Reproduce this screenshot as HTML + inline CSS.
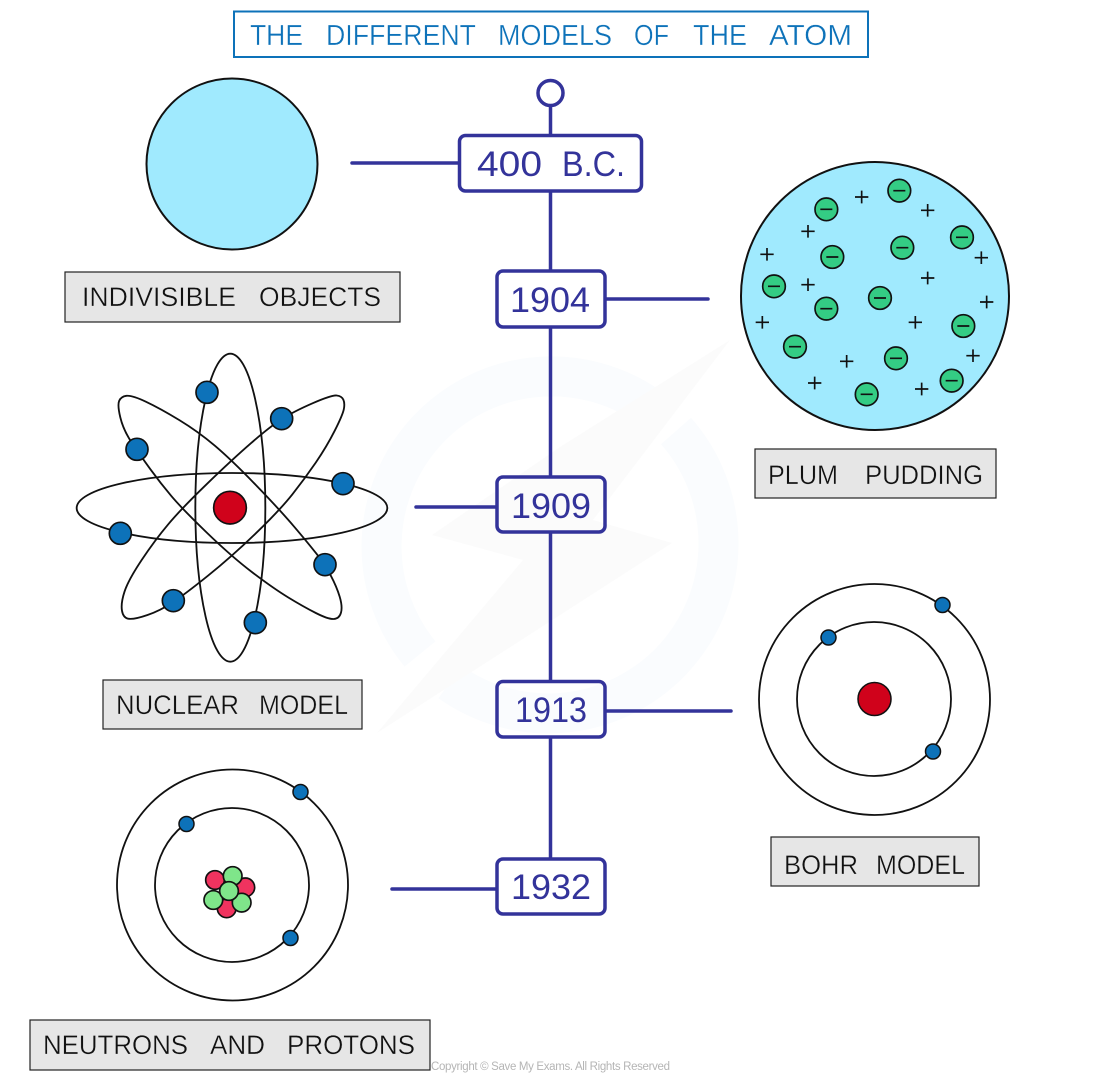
<!DOCTYPE html>
<html>
<head>
<meta charset="utf-8">
<style>
html,body{margin:0;padding:0;background:#fff}
svg{display:block}
text{font-family:"Liberation Sans",sans-serif}
.lb{font-size:27px;fill:#111;stroke:#e6e6e6;stroke-width:.35}
.tt{font-size:29px;fill:#0d72b9;stroke:#fff;stroke-width:.35}
.yr{font-size:35px;fill:#33339a}
.tl{fill:none;stroke:#33339a;stroke-width:3.5;stroke-linecap:round}
.bx{fill:none;stroke:#33339a;stroke-width:3.5}
.gy{fill:#e6e6e6;stroke:#222;stroke-width:1.2}
.or{fill:none;stroke:#111;stroke-width:1.8}
</style>
</head>
<body>
<svg width="1100" height="1078" viewBox="0 0 1100 1078" xmlns="http://www.w3.org/2000/svg">
<rect width="1100" height="1078" fill="#fff"/>
<!-- watermark -->
<path d="M647.500 406A170 170 0 0 0 420 654" fill="none" stroke="#fafcfe" stroke-width="40"/>
<path d="M676 431A170 170 0 0 1 450 682" fill="none" stroke="#fafcfe" stroke-width="40"/>
<polygon points="730,340 560,447 432,535 523,560 377,733 557,617 672,543 593,520" fill="#fbfbfb"/>

<!-- title -->
<rect x="234" y="11.500" width="634" height="45.500" fill="#fff" stroke="#0d72b9" stroke-width="2"/>
<g lengthAdjust="spacingAndGlyphs">
<text class="tt" x="250" y="45" textLength="53" lengthAdjust="spacingAndGlyphs">THE</text>
<text class="tt" x="326" y="45" textLength="150" lengthAdjust="spacingAndGlyphs">DIFFERENT</text>
<text class="tt" x="498" y="45" textLength="114" lengthAdjust="spacingAndGlyphs">MODELS</text>
<text class="tt" x="634" y="45" textLength="35" lengthAdjust="spacingAndGlyphs">OF</text>
<text class="tt" x="693" y="45" textLength="54" lengthAdjust="spacingAndGlyphs">THE</text>
<text class="tt" x="769" y="45" textLength="83" lengthAdjust="spacingAndGlyphs">ATOM</text>
</g>

<!-- timeline -->
<circle cx="550.500" cy="93" r="12.500" fill="#fff" stroke="#33339a" stroke-width="3.5"/>
<path class="tl" style="stroke-linecap:butt" d="M550.500 105V135M550.500 192V271M550.500 327V477M550.500 532V681M550.500 737V859"/>
<path class="tl" d="M352 163H458M606 299H708M416 507H496M606 711H731M392 889H496"/>
<rect class="bx" x="459.500" y="135.500" width="182" height="55.500" rx="6"/>
<rect class="bx" x="497" y="271" width="108" height="56" rx="6"/>
<rect class="bx" x="497" y="477" width="108" height="55" rx="6"/>
<rect class="bx" x="497" y="681.500" width="108" height="55.500" rx="6"/>
<rect class="bx" x="497" y="859" width="108" height="55" rx="6"/>
<text class="yr" x="477" y="176" textLength="65" lengthAdjust="spacingAndGlyphs">400</text>
<text class="yr" x="562" y="176" textLength="63" lengthAdjust="spacingAndGlyphs">B.C.</text>
<text class="yr" x="510" y="312" textLength="80" lengthAdjust="spacingAndGlyphs">1904</text>
<text class="yr" x="511" y="518" textLength="80" lengthAdjust="spacingAndGlyphs">1909</text>
<text class="yr" x="515" y="722" textLength="72" lengthAdjust="spacingAndGlyphs">1913</text>
<text class="yr" x="511" y="899" textLength="80" lengthAdjust="spacingAndGlyphs">1932</text>

<!-- indivisible -->
<circle cx="232" cy="164" r="85.500" fill="#a0eafe" stroke="#111" stroke-width="2"/>
<rect class="gy" x="65" y="272" width="335" height="50"/>
<text class="lb" x="82" y="306" textLength="154" lengthAdjust="spacingAndGlyphs">INDIVISIBLE</text>
<text class="lb" x="259" y="306" textLength="122" lengthAdjust="spacingAndGlyphs">OBJECTS</text>

<!-- plum pudding -->
<circle cx="875" cy="296" r="134" fill="#a0eafe" stroke="#111" stroke-width="2"/>
<g transform="translate(720 150) scale(.33333)">
<g fill="#34cc84" stroke="#111" stroke-width="5">
<circle cx="538" cy="122" r="34"/><circle cx="319" cy="178" r="34"/><circle cx="726" cy="262" r="34"/>
<circle cx="337" cy="321" r="34"/><circle cx="547" cy="293" r="34"/><circle cx="162" cy="409" r="34"/>
<circle cx="480" cy="444" r="34"/><circle cx="319" cy="476" r="34"/><circle cx="730" cy="528" r="34"/>
<circle cx="225" cy="590" r="34"/><circle cx="528" cy="625" r="34"/><circle cx="695" cy="692" r="34"/>
<circle cx="440" cy="733" r="34"/>
</g>
<path fill="none" stroke="#111" stroke-width="5" d="M520 122h36M301 178h36M708 262h36M319 321h36M529 293h36M144 409h36M462 444h36M301 476h36M712 528h36M207 590h36M510 625h36M677 692h36M422 733h36M405 141h40M425 122v38M603 181h40M623 162v38M244 244h40M264 225v38M121 313h40M141 294v38M764 323h40M784 304v38M603 384h40M623 365v38M244 404h40M264 385v38M780 456h40M800 437v38M107 517h40M127 498v38M566 517h40M586 498v38M360 634h40M380 615v38M739 617h40M759 598v38M264 699h40M284 680v38M585 717h40M605 698v38"/>
</g>
<rect class="gy" x="755" y="449" width="241" height="49"/>
<text class="lb" x="768" y="484" textLength="70" lengthAdjust="spacingAndGlyphs">PLUM</text>
<text class="lb" x="865" y="484" textLength="118" lengthAdjust="spacingAndGlyphs">PUDDING</text>

<!-- nuclear -->
<g transform="translate(60 340) scale(.33333)">
<g fill="none" stroke="#111" stroke-width="5.500">
<ellipse cx="516" cy="504" rx="466" ry="105"/>
<ellipse cx="511" cy="503" rx="105" ry="462"/>
<path d="M177.500,182.500 Q183,170 199,167.500 Q215,165 257.500,185 Q300,205 357.500,240 Q415,275 465,317.500 Q515,360 587.500,435 Q660,510 702.500,560 Q745,610 770,642 Q795,674 812.500,707 Q830,740 839,770 Q848,800 843,818 Q838,836 821.500,837 Q805,838 767.500,819 Q730,800 685,772.500 Q640,745 577.500,697.500 Q515,650 440,577.500 Q365,505 333.500,467.500 Q302,430 271,387.500 Q240,345 215,307.500 Q190,270 181,232.500 Q172,195 177.500,182.500 Z"/>
<path d="M850,179 Q845,168 830,166.500 Q815,165 757.500,190 Q700,215 665,237.500 Q630,260 572.500,310 Q515,360 440,432.500 Q365,505 325,552.500 Q285,600 245,660 Q205,720 193.500,755 Q182,790 186,812.500 Q190,835 207.500,836.500 Q225,838 262.500,825 Q300,812 336,788.500 Q372,765 443.500,707.500 Q515,650 587.500,580 Q660,510 697.500,462.500 Q735,415 767.500,367.500 Q800,320 824,272.500 Q848,225 851.500,207.500 Q855,190 850,179 Z"/>
</g>
<g fill="#0d72b9" stroke="#111" stroke-width="5">
<circle cx="441" cy="157" r="33"/><circle cx="665" cy="236" r="33"/><circle cx="231" cy="328" r="33"/>
<circle cx="849" cy="431" r="33"/><circle cx="181" cy="580" r="33"/><circle cx="795" cy="674" r="33"/>
<circle cx="340" cy="782" r="33"/><circle cx="586" cy="848" r="33"/>
</g>
<circle cx="510" cy="503" r="49" fill="#d0021b" stroke="#111" stroke-width="5"/>
</g>
<rect class="gy" x="103" y="680" width="259" height="49"/>
<text class="lb" x="116" y="714" textLength="123" lengthAdjust="spacingAndGlyphs">NUCLEAR</text>
<text class="lb" x="259" y="714" textLength="89" lengthAdjust="spacingAndGlyphs">MODEL</text>

<!-- bohr -->
<circle class="or" cx="874.500" cy="699.500" r="115.500"/>
<circle class="or" cx="874" cy="699" r="77"/>
<g fill="#0d72b9" stroke="#111" stroke-width="1.5">
<circle cx="942.500" cy="605" r="7.500"/><circle cx="828.500" cy="637.500" r="7.500"/><circle cx="933" cy="751.500" r="7.500"/>
</g>
<circle cx="874.500" cy="699" r="16.500" fill="#d0021b" stroke="#111" stroke-width="1.500"/>
<rect class="gy" x="771" y="837" width="208" height="49"/>
<text class="lb" x="784" y="874" textLength="74" lengthAdjust="spacingAndGlyphs">BOHR</text>
<text class="lb" x="876" y="874" textLength="89" lengthAdjust="spacingAndGlyphs">MODEL</text>

<!-- neutrons and protons -->
<circle class="or" cx="232.500" cy="885" r="115.500"/>
<circle class="or" cx="232" cy="885" r="77"/>
<g fill="#0d72b9" stroke="#111" stroke-width="1.5">
<circle cx="300.500" cy="792" r="7.500"/><circle cx="186.500" cy="824" r="7.500"/><circle cx="290.500" cy="938" r="7.500"/>
</g>
<g transform="translate(170 850) scale(.33333)" stroke="#111" stroke-width="5">
<circle cx="135" cy="90" r="28" fill="#f0335f"/>
<circle cx="226" cy="112" r="28" fill="#f0335f"/>
<circle cx="170" cy="175" r="28" fill="#f0335f"/>
<circle cx="188" cy="78" r="28" fill="#7fe58a"/>
<circle cx="130" cy="150" r="28" fill="#7fe58a"/>
<circle cx="215" cy="158" r="28" fill="#7fe58a"/>
<circle cx="177" cy="123" r="28" fill="#7fe58a"/>
</g>
<rect class="gy" x="30" y="1020" width="400" height="50"/>
<text class="lb" x="43" y="1054" textLength="145" lengthAdjust="spacingAndGlyphs">NEUTRONS</text>
<text class="lb" x="210" y="1054" textLength="55" lengthAdjust="spacingAndGlyphs">AND</text>
<text class="lb" x="287" y="1054" textLength="128" lengthAdjust="spacingAndGlyphs">PROTONS</text>

<text x="431" y="1070" font-size="11.500" fill="#b5b5b5" textLength="239">Copyright © Save My Exams. All Rights Reserved</text>
</svg>
</body>
</html>
